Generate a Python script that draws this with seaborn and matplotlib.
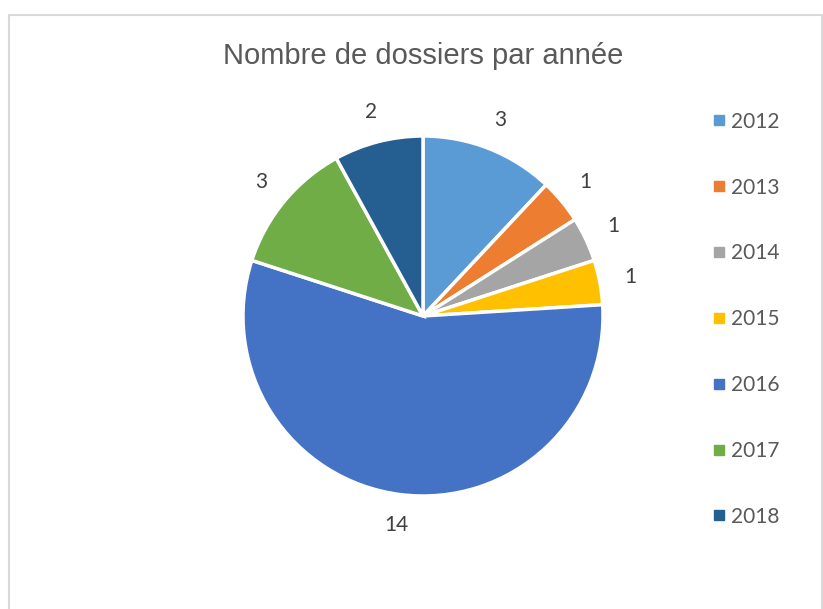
import matplotlib
matplotlib.use("Agg")
import matplotlib.pyplot as plt
from matplotlib.patches import Rectangle
from matplotlib.lines import Line2D
import seaborn as sns

sns.set_theme(style="white")
plt.rcParams['font.family'] = ['Liberation Sans', 'DejaVu Sans']

years = ["2012", "2013", "2014", "2015", "2016", "2017", "2018"]
dossiers = [3, 1, 1, 1, 14, 3, 2]
colors = ["#5B9BD5", "#ED7D31", "#A5A5A5", "#FFC000", "#4472C4", "#70AD47", "#255E91"]

palette = sns.color_palette(colors)

fig = plt.figure(figsize=(8.23, 6.09), dpi=100)
ax = fig.add_axes([243 / 823, 113 / 609, 360 / 823, 360 / 609])

wedges, texts = ax.pie(dossiers, labels=[str(v) for v in dossiers], colors=palette,
                       startangle=90, counterclock=False, labeldistance=1.17,
                       wedgeprops=dict(edgecolor="white", linewidth=2.5))
for t in texts:
    t.set_ha("center")
    t.set_va("center")
    t.set_family(["Lato", "DejaVu Sans"])
    t.set_fontsize(15)
    t.set_color("#404040")
ax.set_xlim(-1, 1)
ax.set_ylim(-1, 1)
ax.set_aspect("equal")

fig.text(423 / 823, 1 - 56 / 609, "Nombre de dossiers par année", ha="center", va="center",
         fontsize=21, color="#595959")

handles = [Line2D([], [], marker="s", linestyle="", markersize=6.5, color=c) for c in palette]
leg = fig.legend(handles, years, loc="upper left", bbox_to_anchor=(694 / 823, 1 - 93 / 609),
                 frameon=False, handlelength=0.6, handletextpad=0.3, labelspacing=2.2,
                 prop={"family": ["Lato", "DejaVu Sans"], "size": 15})
for t in leg.get_texts():
    t.set_color("#595959")

fig.patches.append(Rectangle((9 / 823, -0.05), (822 - 9) / 823, 1.05 - 15 / 609,
                             transform=fig.transFigure, fill=False,
                             edgecolor="#d9d9d9", linewidth=1.5))

fig.savefig("out.png", dpi=100, facecolor="white")
